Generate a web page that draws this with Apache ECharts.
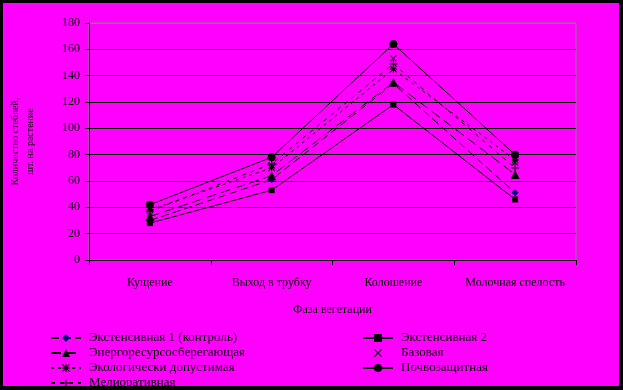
<!DOCTYPE html>
<html><head><meta charset="utf-8">
<script src="https://cdn.jsdelivr.net/npm/echarts@6/dist/echarts.min.js"></script>
<style>html,body{margin:0;padding:0;background:#FF00FF}#c{width:623px;height:390px}</style>
</head><body><div id="c"></div>
<script>
const categories = ['Кущение', 'Выход в трубку', 'Колошение', 'Молочная спелость'];
const ext1 = [30, 61, 134, 51];
const ext2 = [28, 53, 118, 46];
const energo = [33, 64, 135, 65];
const bazovaya = [36, 72, 153, 74];
const ecolog = [38, 70, 145, 76];
const pochvo = [42, 78, 164, 80];
const melior = [37, 73, 149, 70];
const yTicks = [0, 20, 40, 60, 80, 100, 120, 140, 160, 180];

const PLUS = 'path://M4.3,0H5.7V4.3H10V5.7H5.7V10H4.3V5.7H0V4.3H4.3Z';
const CROSS = 'path://M0,1L1,0L5,4L9,0L10,1L6,5L10,9L9,10L5,6L1,10L0,9L4,5Z';
const STAR = 'path://M4.3,0H5.7V10H4.3Z M0,4.3H10V5.7H0Z M0,1L1,0L10,9L9,10Z M9,0L10,1L1,10L0,9Z';

function ser(name, data, symbol, size, type, color, width) {
  return {
    name, type: 'line', data, symbol, symbolSize: size, showSymbol: true,
    lineStyle: { color: '#000', width: width === undefined ? 1 : width, type },
    itemStyle: { color: color || '#000', borderWidth: 0 },
    emphasis: { disabled: true }, animation: false
  };
}

const chart = echarts.init(document.getElementById('c'));
const font = 'Liberation Serif';
const legendCommon = {
  orient: 'vertical', itemGap: 1, itemWidth: 30, itemHeight: 10, height: 70, padding: 0,
  textStyle: { fontFamily: font, fontSize: 13, color: '#000', padding: [0, 0, 0, 3], lineHeight: 14 }
};
chart.setOption({
  backgroundColor: '#FF00FF',
  animation: false,
  textStyle: { fontFamily: font, color: '#000' },
  grid: { left: 84, right: 47, top: 23, bottom: 130, show: true, borderColor: '#808080', borderWidth: 1 },
  xAxis: {
    type: 'category', data: categories, boundaryGap: true,
    name: 'Фаза вегетации', nameLocation: 'middle', nameGap: 44,
    nameTextStyle: { fontFamily: font, fontSize: 12, color: '#000' },
    axisLine: { lineStyle: { color: '#000', width: 1 } },
    axisTick: { show: true, length: 5, lineStyle: { color: '#000' } },
    axisLabel: { interval: 0, hideOverlap: false, fontFamily: font, fontSize: 12, color: '#000', margin: 17 }
  },
  yAxis: {
    type: 'value', min: 0, max: 180, interval: 20,
    name: 'Количество стеблей,\nшт. на растение', nameLocation: 'middle', nameRotate: 90, nameGap: 51,
    nameTextStyle: { fontFamily: font, fontSize: 10, color: '#000', lineHeight: 15 },
    axisLine: { show: true, lineStyle: { color: '#000', width: 1 } },
    axisTick: { show: true, length: 4, lineStyle: { color: '#000' } },
    axisLabel: { fontFamily: font, fontSize: 12, color: '#000', margin: 9,
      formatter: v => yTicks.includes(v) ? String(v) : '' },
    splitLine: { show: true, lineStyle: { color: ['#000','#000','#000','#000','#000','#000','#000','#000','#000','#808080'], width: 1 } }
  },
  legend: [
    Object.assign({}, legendCommon, {
      left: 50, top: 331,
      data: ['Экстенсивная 1 (контроль)', 'Энергоресурсосберегающая', 'Экологически допустимая', 'Мелиоративная']
    }),
    Object.assign({}, legendCommon, {
      left: 362, top: 331,
      data: ['Экстенсивная 2', 'Базовая', 'Почвозащитная']
    })
  ],
  graphic: [
    { type: 'rect', shape: { x: 0, y: 0, width: 623, height: 3 }, style: { fill: '#000' }, silent: true },
    { type: 'rect', shape: { x: 0, y: 386, width: 623, height: 4 }, style: { fill: '#000' }, silent: true },
    { type: 'rect', shape: { x: 0, y: 0, width: 3, height: 390 }, style: { fill: '#000' }, silent: true },
    { type: 'rect', shape: { x: 619, y: 0, width: 4, height: 390 }, style: { fill: '#000' }, silent: true }
  ],
  series: [
    ser('Экстенсивная 1 (контроль)', ext1, 'diamond', 7, [8, 4], '#000080'),
    ser('Экстенсивная 2', ext2, 'rect', 6, 'solid'),
    ser('Энергоресурсосберегающая', energo, 'triangle', 9, [10, 5]),
    ser('Базовая', bazovaya, CROSS, 7, 'dotted', '#000', 0),
    ser('Экологически допустимая', ecolog, STAR, 7, [3, 4]),
    ser('Почвозащитная', pochvo, 'circle', 8, 'solid'),
    ser('Мелиоративная', melior, PLUS, 8, [4, 5])
  ]
});
</script></body></html>
